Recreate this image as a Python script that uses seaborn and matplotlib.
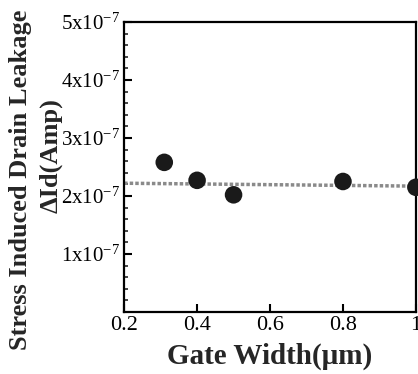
import matplotlib
matplotlib.use("Agg")
import matplotlib.pyplot as plt
import seaborn as sns
import numpy as np
import pandas as pd
from matplotlib.ticker import FixedLocator, MultipleLocator

gate_width = [0.31, 0.40, 0.50, 0.80, 1.00]
leakage = [2.58e-7, 2.27e-7, 2.02e-7, 2.25e-7, 2.15e-7]
fit_x = [0.2, 1.0]
fit_y = [2.22e-7, 2.17e-7]
x_ticks = [0.2, 0.4, 0.6, 0.8, 1.0]
x_tick_labels = ["0.2", "0.4", "0.6", "0.8", "1"]
y_ticks = [1e-7, 2e-7, 3e-7, 4e-7, 5e-7]
y_tick_labels = ["1", "2", "3", "4", "5"]

sns.set_theme(style="ticks")
plt.rcParams['font.family'] = ['Liberation Serif', 'DejaVu Serif']
plt.rcParams['mathtext.fontset'] = 'custom'
plt.rcParams['mathtext.rm'] = 'Liberation Serif'
plt.rcParams['mathtext.it'] = 'Liberation Serif:italic'

fig = plt.figure(figsize=(4.18, 3.74), dpi=100)
ax = fig.add_axes([0.297, 0.166, 0.698, 0.775])

df = pd.DataFrame({"w": gate_width, "l": leakage})
fit = pd.DataFrame({"w": fit_x, "l": fit_y})
sns.lineplot(data=fit, x="w", y="l", ax=ax, color="#8a8a8a", lw=2.5,
             linestyle=(0, (1, 0.6)), zorder=2)
sns.scatterplot(data=df, x="w", y="l", ax=ax, color="#1a1a1a", s=160,
                edgecolor="none", zorder=3, clip_on=False)

ax.set_xlim(0.2, 1.0)
ax.set_ylim(0, 5e-7)
ax.xaxis.set_major_locator(FixedLocator(x_ticks))
ax.set_xticklabels(x_tick_labels, fontsize=16)
ax.yaxis.set_major_locator(FixedLocator(y_ticks))
ax.set_yticklabels([f"${v}\\mathrm{{x}}10^{{-7}}$" for v in y_tick_labels], fontsize=15)
ax.yaxis.set_minor_locator(MultipleLocator(2e-8))
ax.tick_params(axis="both", which="major", direction="in", length=6, width=1.5,
               color="black", labelcolor="black", pad=3)
ax.tick_params(axis="y", which="minor", direction="in", length=3, width=1.2)
for sp in ax.spines.values():
    sp.set_linewidth(1.6)
    sp.set_color("black")
ax.set_xlabel("")
ax.set_ylabel("")
fig.text(0.645, 0.01, "Gate Width(μm)", ha="center", va="bottom",
         fontsize=21, fontweight="bold")
fig.text(0.05, 0.52, "Stress Induced Drain Leakage", rotation=90,
         ha="center", va="center", fontsize=19, fontweight="bold")
fig.text(0.122, 0.585, "ΔId(Amp)", rotation=90,
         ha="center", va="center", fontsize=19, fontweight="bold")

fig.savefig("out.png", dpi=100)
